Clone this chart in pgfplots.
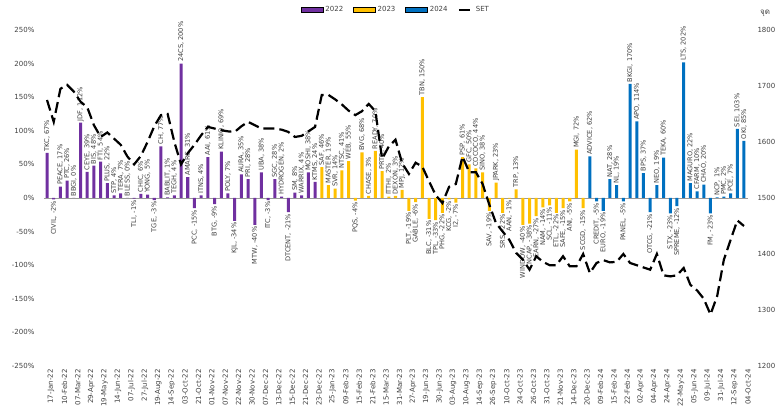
\documentclass[border=0pt]{standalone}
\usepackage{fontspec}
\setmainfont{DejaVu Sans}
\newfontfamily\thaifont[Script=Thai]{Loma}
\usepackage{pgfplots}
\usepackage{pgfplotstable}
\pgfplotsset{compat=1.18}
\definecolor{c22}{RGB}{112,48,160}
\definecolor{c23}{RGB}{255,192,0}
\definecolor{c24}{RGB}{0,112,192}
\definecolor{txt}{RGB}{64,64,64}

% x = IPO number, y = return (%), set = SET index on listing day
\pgfplotstableread{
x y set lab
0 67 1675 {TKC, 67\%}
1 -2 1636 {CIVIL, -2\%}
2 17 1695 {PEACE, 17\%}
3 26 1702 {PTC, 26\%}
4 0 1690 {BBGI, 0\%}
5 112 1672 {JDF, 112\%}
6 39 1662 {CEYE, 39\%}
7 48 1630 {BIS, 48\%}
8 54 1609 {FTI, 54\%}
9 22 1617 {PLUS, 22\%}
10 4 1606 {STP, 4\%}
11 7 1595 {TERA, 7\%}
12 0 1574 {BLESS, 0\%}
13 -1 1560 {TLI, -1\%}
14 6 1575 {CHIC, 6\%}
15 5 1600 {YONG, 5\%}
16 -3 1628 {TGE, -3\%}
17 77 1648 {CH, 77\%}
18 1 1650 {BABLIT, 1\%}
19 4 1600 {TEGH, 4\%}
20 200 1560 {24CS, 200\%}
21 31 1580 {AMARC, 31\%}
22 -15 1595 {PCC, -15\%}
23 4 1612 {ITNS, 4\%}
24 61 1627 {AAI, 61\%}
25 -9 1624 {BTG, -9\%}
26 69 1621 {KLINIQ, 69\%}
27 7 1619 {POLY, 7\%}
28 -34 1618 {KJL, -34\%}
29 35 1628 {AURA, 35\%}
30 28 1636 {PRI, 28\%}
31 -40 1630 {MTW, -40\%}
32 38 1624 {UBA, 38\%}
33 -3 1624 {ITC, -3\%}
34 28 1624 {SGC, 28\%}
35 2 1622 {HYDROGEN, 2\%}
36 -21 1618 {DTCENT, -21\%}
37 8 1609 {SM, 8\%}
38 4 1611 {WARRIX, 4\%}
39 38 1619 {MOSHI, 38\%}
40 24 1627 {KTMS, 24\%}
41 46 1684 {SAF, 46\%}
42 19 1684 {MASTER, 19\%}
43 14 1676 {SVR, 14\%}
44 41 1667 {NTSC, 41\%}
45 55 1656 {WEB, 55\%}
46 -4 1648 {PQS, -4\%}
47 68 1655 {BVG, 68\%}
48 3 1668 {CHASE, 3\%}
49 70 1655 {READY, 70\%}
50 40 1570 {PRTR, 40\%}
51 2 1592 {ITTHI, 2\%}
52 3 1604 {DEXON, 3\%}
53 12 1562 {MPJ, 12\%}
54 -19 1543 {PLT, -19\%}
55 -6 1563 {GABLE, -6\%}
56 150 1556 {TBN, 150\%}
57 -31 1530 {BLC, -31\%}
58 -33 1505 {TPL, -33\%}
59 -22 1491 {PHG, -22\%}
60 -2 1520 {KCG, -2\%}
61 -7 1525 {I2, -7\%}
62 61 1574 {PSP, 61\%}
63 50 1546 {GFC, 50\%}
64 44 1546 {COCOCO, 44\%}
65 38 1525 {SINO, 38\%}
66 -19 1488 {SAV, -19\%}
67 23 1455 {JPARK, 23\%}
68 -22 1440 {SRS, -22\%}
69 -1 1425 {AAN, -1\%}
70 13 1402 {TRP, 13\%}
71 -40 1390 {WINDOW, -40\%}
72 -38 1372 {NCAP, -38\%}
73 -27 1396 {EARN, -27\%}
74 -14 1386 {NAM, -14\%}
75 -11 1380 {SCL, -11\%}
76 -22 1380 {ETL, -22\%}
77 -15 1396 {SAFE, -15\%}
78 -5 1378 {ANI, -5\%}
79 72 1378 {MGI, 72\%}
80 -15 1400 {SCGD, -15\%}
81 62 1366 {ADVICE, 62\%}
82 -5 1384 {CREDIT, -5\%}
83 -19 1389 {EURO, -19\%}
84 28 1385 {NAT, 28\%}
85 19 1386 {NL, 19\%}
86 -5 1400 {PANEL, -5\%}
87 170 1384 {BKGI, 170\%}
88 114 1380 {APO, 114\%}
89 37 1376 {BPS, 37\%}
90 -21 1372 {OTCG, -21\%}
91 19 1400 {NEO, 19\%}
92 60 1362 {TEKA, 60\%}
93 -23 1360 {STX, -23\%}
94 -12 1362 {SPREME, -12\%}
95 202 1375 {LTS, 202\%}
96 22 1345 {MAGURO, 22\%}
97 10 1335 {CFARM, 10\%}
98 20 1320 {CHAO, 20\%}
99 -23 1292 {FM, -23\%}
100 1 1325 {NCP, 1\%}
101 2 1390 {PMC, 2\%}
102 7 1425 {PCE, 7\%}
103 103 1460 {SEI, 103\%}
104 85 1450 {OKI, 85\%}
}\ipo

\pgfplotsset{
  base/.style={
    width=704pt, height=336pt, scale only axis,
    xmin=-0.45, xmax=104.6,
    axis line style={draw=none},
    major tick length=0pt,
    clip=false,
    /pgf/number format/assume math mode=true,
    /pgf/number format/1000 sep={},
    tick label style={font=\fontsize{7}{8}\selectfont, text=txt},
  },
  lbl/.style={draw=none, forget plot, nodes near coords, point meta=explicit symbolic,
    nodes near coords style={rotate=90, inner sep=1.5pt, font=\fontsize{6.6}{7}\selectfont, text=txt}},
  boxlegend/.style={legend image code/.code={\draw[##1] (0pt,-2.5pt) rectangle (22pt,2.5pt);}},
  setlegend/.style={legend image code/.code={\draw[##1] (0pt,0pt) -- (14pt,0pt);}},
}

\begin{document}
\begin{tikzpicture}
\begin{axis}[base, name=main,
  ymin=-250, ymax=250, ytick={-250,-200,...,250},
  yticklabel={\pgfmathprintnumber{\tick}\%},
  yticklabel style={xshift=-6pt},
  xtick={0,2,...,104},
  xticklabels={17-Jan-22,10-Feb-22,07-Mar-22,29-Apr-22,19-May-22,14-Jun-22,07-Jul-22,27-Jul-22,
    19-Aug-22,14-Sep-22,03-Oct-22,21-Oct-22,01-Nov-22,07-Nov-22,22-Nov-22,30-Nov-22,07-Dec-22,
    13-Dec-22,15-Dec-22,21-Dec-22,23-Dec-22,25-Jan-23,09-Feb-23,15-Feb-23,21-Feb-23,15-Mar-23,
    31-Mar-23,27-Apr-23,19-Jun-23,30-Jun-23,03-Aug-23,10-Aug-23,14-Sep-23,26-Sep-23,10-Oct-23,
    24-Oct-23,26-Oct-23,31-Oct-23,21-Nov-23,14-Dec-23,20-Dec-23,09-Feb-24,15-Feb-24,22-Feb-24,
    02-Apr-24,04-Apr-24,24-Apr-24,22-May-24,05-Jun-24,09-Jul-24,31-Jul-24,12-Sep-24,04-Oct-24},
  xticklabel style={rotate=90, anchor=east, yshift=-4pt},
  legend style={at={(0.5,1.06)}, anchor=center, draw=none, fill=none,
    font=\fontsize{7}{8}\selectfont, text=txt, legend columns=4,
    /tikz/every even column/.style={column sep=8pt}},
]
\draw[black!40, line width=0.8pt] (axis cs:-0.45,0) -- (axis cs:104.6,0);
\addplot[ybar, boxlegend, bar width=0.45, bar shift=0pt, fill=c22, draw=none, restrict x to domain=0:40]
  table[x=x, y=y] {\ipo};
\addlegendentry{2022}
\addplot[ybar, boxlegend, bar width=0.45, bar shift=0pt, fill=c23, draw=none, restrict x to domain=41:80]
  table[x=x, y=y] {\ipo};
\addlegendentry{2023}
\addplot[ybar, boxlegend, bar width=0.45, bar shift=0pt, fill=c24, draw=none, restrict x to domain=81:104]
  table[x=x, y=y] {\ipo};
\addlegendentry{2024}
\addlegendimage{setlegend, black, line width=2.2pt, dash pattern=on 11pt off 5pt}
\addlegendentry{SET}
% labels: above positive bars, below negative ones
\addplot[lbl, restrict y to domain=-0.5:300, nodes near coords style={anchor=west}]
  table[x=x, y=y, meta=lab] {\ipo};
\addplot[lbl, restrict y to domain=-300:-0.5, nodes near coords style={anchor=east}]
  table[x=x, y=y, meta=lab] {\ipo};
\end{axis}

\begin{axis}[base, axis y line*=right, hide x axis,
  ymin=1200, ymax=1800, ytick={1200,1300,...,1800},
  yticklabel style={xshift=6pt}]
\addplot[black, line width=2.2pt, dash pattern=on 11pt off 5pt] table[x=x, y=set] {\ipo};
\end{axis}

\node[font={\thaifont\fontsize{8}{9}\selectfont}, text=txt] at ([xshift=17pt, yshift=17pt]main.north east) {จุด};

\pgfresetboundingbox
\useasboundingbox ([xshift=-44pt, yshift=-40pt]main.south west) rectangle ([xshift=32pt, yshift=30pt]main.north east);
\end{tikzpicture}
\end{document}
